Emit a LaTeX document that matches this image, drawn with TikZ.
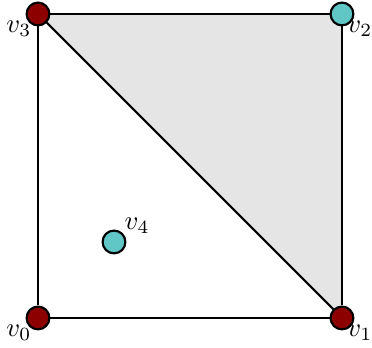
\documentclass[tikz,border=0pt]{standalone}
\usepackage{amsmath}
\usepackage{tikz}
\usetikzlibrary{positioning}
\definecolor{darkred}{RGB}{140,0,0}
\definecolor{teal}{RGB}{96,198,198}
\tikzset{
    vertex/.style={circle, draw, thick, minimum size=3mm, inner sep=0pt},
    edge/.style={draw, thick},
    lbl/.style={inner sep=1pt}
}
\begin{document}
\begin{tikzpicture}
    \useasboundingbox (-0.5,-0.395) rectangle (4.395,4.184);
    % shaded triangle
    \fill[black!10] (0,4) -- (4,4) -- (4,0) -- cycle;

    % Nodes
    \node[vertex, fill=darkred] (v0) at (0,0) {};
    \node[vertex, fill=darkred] (v1) at (4,0) {};
    \node[vertex, fill=teal] (v2) at (4,4) {};
    \node[vertex, fill=darkred] (v3) at (0,4) {};
    \node[vertex, fill=teal] (v4) at (1,1) {};

    % labels
    \node[lbl, below left=-2pt and -2pt of v0] {$v_0$};
    \node[lbl, below right=-2pt and -2.5pt of v1] {$v_1$};
    \node[lbl, below right=-2pt and -2.5pt of v2] {$v_2$};
    \node[lbl, below left=-2pt and -2pt of v3] {$v_3$};
    \node[lbl, above right=-1.5pt and -0.5pt of v4] {$v_4$};

    % edges
    \draw[edge] (v0) -- (v1);
    \draw[edge] (v1) -- (v2);
    \draw[edge] (v2) -- (v3);
    \draw[edge] (v3) -- (v0);
    \draw[edge] (v3) -- (v1);
\end{tikzpicture}
\end{document}
